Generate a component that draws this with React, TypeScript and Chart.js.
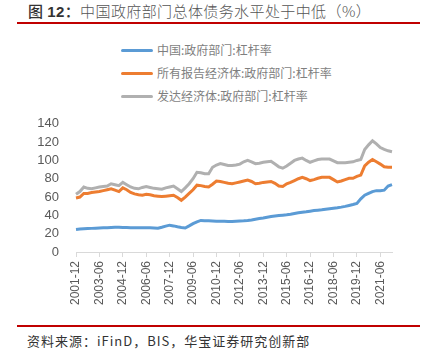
import React, { useEffect, useRef } from "react";
import { Chart, registerables } from "chart.js";

Chart.register(...registerables);

// Quarterly categories 2001-12 .. 2022-03
const startYear = 2001;
const quarters: string[] = (() => {
  const out: string[] = [];
  const months = ["03", "06", "09", "12"];
  let y = startYear;
  let q = 3;
  for (let i = 0; i < 82; i++) {
    out.push(`${y}-${months[q]}`);
    q++;
    if (q > 3) {
      q = 0;
      y++;
    }
  }
  return out;
})();

const chinaGov = [
  24.5, 25, 25.3, 25.6, 25.8, 26, 26.2, 26.4, 26.6, 26.8, 27, 27, 26.8, 26.7, 26.6, 26.6,
  26.6, 26.5, 26.5, 26.4, 26.3, 26, 27, 28.2, 29.3, 28.5, 27.5, 26.8, 26.2, 28.5, 31, 33,
  34.5, 34.2, 34, 33.8, 33.6, 33.5, 33.5, 33.4, 33.4, 33.6, 33.8, 34, 34.3, 35, 35.8, 36.5,
  37.2, 38, 38.7, 39.3, 39.8, 40.2, 40.6, 41.2, 42, 42.8, 43.5, 44, 44.6, 45.2, 45.7, 46.2,
  46.8, 47.3, 47.8, 48.3, 49, 49.8, 50.8, 51.8, 53, 58, 62, 64, 66, 67, 67, 67.5, 72, 73.5,
];

const allReporting = [
  59, 60, 64, 64, 65, 65.5, 66, 67, 68, 69, 67.5, 66, 70, 68, 65, 63.5,
  62.5, 62, 63, 62.5, 61.5, 61, 60.5, 61, 61.5, 62, 59.5, 56.5, 60, 64, 68, 73,
  72.5, 71.5, 71, 74, 77.5, 77, 76, 75, 74.5, 75.5, 76.5, 77.5, 78.5, 77, 74.5, 75,
  76, 76.5, 77, 75, 72, 71.5, 74.5, 76, 78, 80, 81.5, 80, 78, 79, 80.5, 81.5,
  81.5, 81.5, 79, 76.5, 77.5, 79, 80.5, 80.5, 82.5, 84, 94, 98, 101, 98.5, 96, 93, 92.5, 92.5,
];

const advanced = [
  63, 66, 71, 69.5, 69, 70, 71, 71.5, 72, 74.5, 73.5, 72.5, 76, 73.5, 71, 69.5,
  69, 70.5, 71.5, 70.5, 69.5, 69, 68.5, 70, 71, 72, 69, 66, 70, 74.5, 80, 87,
  86.5, 85.5, 85.5, 92.5, 95, 96.5, 95.5, 94.5, 94.5, 95, 96, 98.5, 100, 98.5, 96.5, 97,
  98, 98.5, 99, 96, 93, 91.5, 94, 97, 100, 101.5, 102.5, 100, 98, 99.5, 101, 101.5,
  101.5, 101.5, 99.5, 97.5, 97.5, 97.5, 98, 98.5, 100, 101, 112, 117, 121.5, 118, 114, 112, 110.5, 109.5,
];

const seriesNames = ["中国:政府部门:杠杆率", "所有报告经济体:政府部门:杠杆率", "发达经济体:政府部门:杠杆率"];
const seriesColors = ["#5B9BD5", "#ED7D31", "#B0B0B0"];
const yTicks = [0, 20, 40, 60, 80, 100, 120, 140];
const labelEvery = 6;

const titleText = "中国政府部门总体债务水平处于中低（%）";
const sourceText = "资料来源：iFinD，BIS，华宝证券研究创新部";

export default function App() {
  const canvasRef = useRef<HTMLCanvasElement | null>(null);

  useEffect(() => {
    if (!canvasRef.current) return;
    const chart = new Chart(canvasRef.current, {
      type: "line",
      data: {
        labels: quarters,
        datasets: [chinaGov, allReporting, advanced].map((d, i) => ({
          label: seriesNames[i],
          data: d,
          borderColor: seriesColors[i],
          backgroundColor: seriesColors[i],
          borderWidth: 3,
          pointRadius: 0,
          tension: 0,
          fill: false,
        })),
      },
      options: {
        animation: false,
        responsive: false,
        devicePixelRatio: 1,
        layout: { padding: { top: 9, right: 36, left: 0, bottom: 0 } },
        plugins: { legend: { display: false }, tooltip: { enabled: false } },
        scales: {
          x: {
            type: "category",
            offset: false,
            afterFit: (s: any) => {
              s.height = 63;
            },
            border: { display: true, color: "#D9D9D9", width: 1 },
            grid: {
              drawOnChartArea: false,
              drawTicks: true,
              tickLength: 5,
              color: (ctx: any) => (ctx.index % labelEvery === 0 ? "#D9D9D9" : "rgba(0,0,0,0)"),
            },
            ticks: {
              autoSkip: false,
              minRotation: 90,
              maxRotation: 90,
              padding: 4,
              color: "#595959",
              font: { family: "Liberation Sans", size: 12 },
              callback: (_v: any, i: number) => (i % labelEvery === 0 ? quarters[i] : ""),
            },
          },
          y: {
            min: 0,
            max: 140,
            afterFit: (s: any) => {
              s.width = 76;
            },
            afterBuildTicks: (s: any) => {
              s.ticks = yTicks.map((v) => ({ value: v }));
            },
            border: { display: false },
            grid: { display: false, drawTicks: false },
            ticks: {
              autoSkip: false,
              padding: 17,
              color: "#595959",
              font: { family: "Liberation Sans", size: 13 },
            },
          },
        },
      },
    });
    return () => chart.destroy();
  }, []);

  const legendTops = [50, 73, 96];

  return (
    <div
      style={{
        position: "fixed",
        left: 0,
        top: 0,
        width: 428,
        height: 360,
        background: "#fff",
        overflow: "hidden",
        fontFamily: '"Noto Sans CJK SC", sans-serif',
      }}
    >
      <div
        style={{
          position: "absolute",
          left: 28,
          top: 1,
          fontSize: 15,
          lineHeight: "20px",
          color: "#555",
          whiteSpace: "nowrap",
          letterSpacing: 0.4,
          fontWeight: 300,
        }}
      >
        <span style={{ fontWeight: 500, color: "#333" }}>图 </span>
        <span style={{ fontFamily: "Liberation Sans", fontWeight: "bold", color: "#333" }}>12</span>
        <span style={{ fontWeight: 500, color: "#333" }}>：</span>
        <span>{titleText}</span>
      </div>
      <div style={{ position: "absolute", left: 17, top: 22, width: 403, height: 2, background: "#C00000" }} />

      {seriesNames.map((n, i) => (
        <div key={n} style={{ position: "absolute", left: 121, top: legendTops[i] - 10, height: 20, whiteSpace: "nowrap" }}>
          <div
            style={{
              position: "absolute",
              left: 0,
              top: 8.5,
              width: 32,
              height: 3,
              borderRadius: 1.5,
              background: seriesColors[i],
            }}
          />
          <div style={{ position: "absolute", left: 36, top: 0, fontSize: 12, lineHeight: "20px", color: "#7F7F7F" }}>{n}</div>
        </div>
      ))}

      <canvas ref={canvasRef} width={428} height={216} style={{ position: "absolute", left: 0, top: 99, width: 428, height: 216 }} />

      <div style={{ position: "absolute", left: 17, top: 325, width: 403, height: 2, background: "#C00000" }} />
      <div
        style={{
          position: "absolute",
          left: 27,
          top: 332,
          fontSize: 13,
          lineHeight: "18px",
          color: "#333",
          whiteSpace: "nowrap",
          letterSpacing: 1,
        }}
      >
        {sourceText}
      </div>
    </div>
  );
}
